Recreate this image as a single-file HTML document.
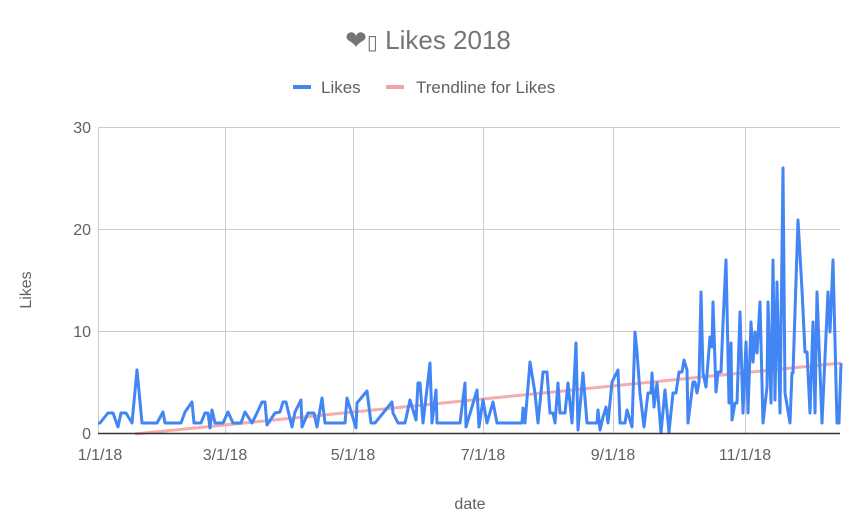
<!DOCTYPE html>
<html><head><meta charset="utf-8"><style>body{margin:0;background:#fff}svg{display:block}text{font-family:"Liberation Sans","DejaVu Sans",sans-serif}</style></head>
<body>
<svg width="853" height="532" viewBox="0 0 853 532" xmlns="http://www.w3.org/2000/svg">
<rect width="853" height="532" fill="#fff"/>
<text x="428" y="49" text-anchor="middle" font-size="26" fill="#757575">❤<tspan font-size="20">&#x25AF;</tspan> Likes 2018</text>
<line x1="293" y1="87" x2="311" y2="87" stroke="#4285f4" stroke-width="4"/>
<text x="321" y="93" font-size="17" fill="#616161">Likes</text>
<line x1="386" y1="87" x2="404" y2="87" stroke="#f4a3a3" stroke-width="4"/>
<text x="416" y="93" font-size="17" fill="#616161">Trendline for Likes</text>
<g stroke="#cccccc" stroke-width="1">
<line x1="98" y1="127.5" x2="840" y2="127.5"/>
<line x1="98" y1="229.5" x2="840" y2="229.5"/>
<line x1="98" y1="331.5" x2="840" y2="331.5"/>
<line x1="98.5" y1="127" x2="98.5" y2="433"/>
<line x1="225.5" y1="127" x2="225.5" y2="433"/>
<line x1="353.5" y1="127" x2="353.5" y2="433"/>
<line x1="483.5" y1="127" x2="483.5" y2="433"/>
<line x1="613.5" y1="127" x2="613.5" y2="433"/>
<line x1="745.5" y1="127" x2="745.5" y2="433"/>
</g>
<g font-size="16" fill="#616161" text-anchor="end">
<text x="91" y="133">30</text><text x="91" y="235">20</text><text x="91" y="337">10</text><text x="91" y="439">0</text>
</g>
<g font-size="16" fill="#616161" text-anchor="middle">
<text x="100" y="460">1/1/18</text><text x="225" y="460">3/1/18</text><text x="353" y="460">5/1/18</text><text x="483" y="460">7/1/18</text><text x="613" y="460">9/1/18</text><text x="745" y="460">11/1/18</text>
<text x="470" y="509">date</text>
</g>
<text transform="translate(31,290) rotate(-90)" font-size="16" fill="#616161" text-anchor="middle">Likes</text>
<line x1="135" y1="434" x2="841" y2="363" stroke="#f4a3a3" stroke-width="3" stroke-opacity="0.9"/>
<polyline fill="none" stroke="#4285f4" stroke-width="3" stroke-linejoin="round" points="98,423 100,423 108,413 113,413 118,427 121,413 126,413 132,423 137,370 142,423 157,423 163,412 165,423 181,423 185,412 192,402 194,423 201,423 205,413 208,413 210,428 212,410 215,423 223,423 228,412 233,423 241,423 245,412 252,423 257,413 262,402 265,402 267,425 275,413 280,412 283,402 286,402 292,427 295,412 301,400 302,427 308,413 314,413 317,427 322,398 325,423 345,423 347,398 350,408 356,428 357,403 367,391 371,423 375,423 392,402 393,413 398,423 405,423 410,400 416,420 418,383 420,383 423,423 430,363 432,423 436,390 437,423 460,423 465,383 466,427 477,390 479,427 483,400 487,423 493,402 497,423 522,423 523,408 525,423 530,362 535,393 538,423 543,372 547,372 550,413 553,413 555,423 558,383 560,413 565,413 568,383 572,423 576,343 578,430 583,373 587,423 597,423 598,410 600,430 603,417 606,407 608,423 612,382 618,370 620,423 625,423 627,410 632,427 635,332 637,352 640,393 644,427 648,393 651,393 652,373 654,407 657,383 661,433 665,390 669,432 673,393 676,393 679,372 682,372 684,360 687,370 688,423 693,382 695,382 697,393 699,382 701,292 703,373 706,387 710,337 712,347 713,302 716,392 718,372 721,372 723,323 726,260 729,403 731,343 732,420 735,403 737,403 740,312 743,413 746,342 748,413 751,322 753,362 755,332 757,353 760,302 763,423 767,387 768,302 771,403 773,260 775,400 777,282 780,413 783,168 785,393 790,423 792,373 793,373 798,220 802,290 805,352 807,352 810,413 813,322 815,413 817,292 822,423 828,292 830,332 833,260 837,423 839,423 841,363"/>
<line x1="98" y1="433.5" x2="840" y2="433.5" stroke="#333" stroke-width="1.5"/>
</svg>
</body></html>
